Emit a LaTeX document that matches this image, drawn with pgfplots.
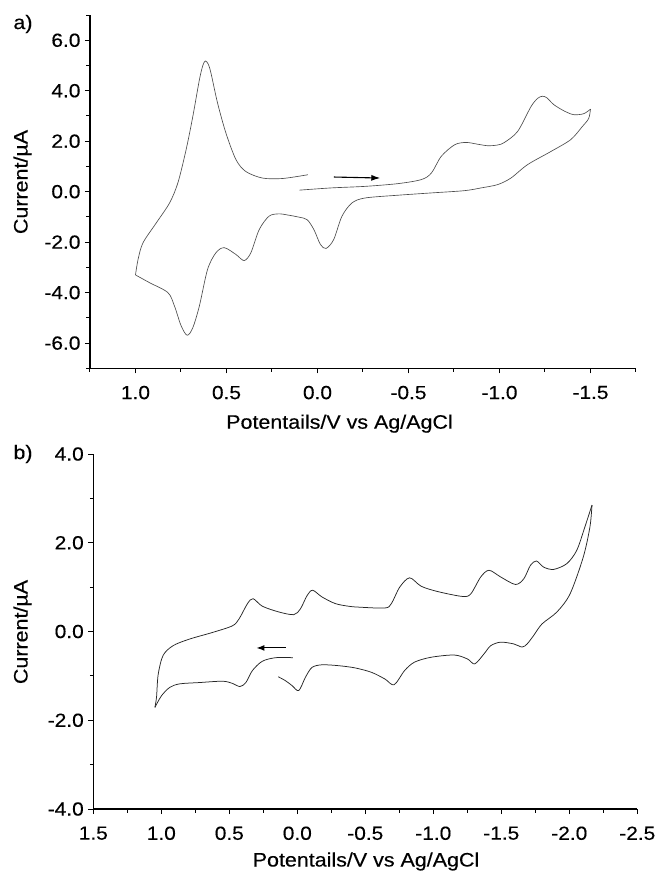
\documentclass[border=0pt]{standalone}
\usepackage{fontspec}
\setmainfont{Liberation Sans}[FakeStretch=1.1,FakeBold=0.3]
\usepackage{pgfplots}
\pgfplotsset{compat=1.18}
\usetikzlibrary{arrows.meta}

\pgfplotsset{cvaxis/.style={
  scale only axis,
  anchor=south west,
  x dir=reverse,
  axis lines*=left,
  tick pos=left,
  axis line style={line width=1.3pt,-},
  every tick/.style={line width=1pt,black},
  tick align=outside,
  major tick length=5pt,
  minor tick length=3.5pt,
  tick label style={font=\fontsize{19}{22}\selectfont},
  xticklabel style={yshift=-9pt},
  yticklabel style={xshift=-1pt},
  clip=false,
}}

\begin{document}
\begin{tikzpicture}
\path[use as bounding box] (0pt,0pt) rectangle (658pt,-879pt);

% ---------------- panel a ----------------
\begin{axis}[cvaxis,
  at={(90pt,-368.3pt)}, width=546pt, height=353.3pt,
  xmin=-1.75, xmax=1.25, ymin=-7, ymax=7,
  xtick={-1.5,-1.0,-0.5,0,0.5,1.0},
  xticklabels={-1.5,-1.0,-0.5,0.0,0.5,1.0},
  minor xtick={-1.75,-1.25,-0.75,-0.25,0.25,0.75,1.25},
  ytick={-6,-4,-2,0,2,4,6},
  yticklabels={-6.0,-4.0,-2.0,0.0,2.0,4.0,6.0},
  minor ytick={-7,-5,-3,-1,1,3,5,7},
]
\addplot[black!70, line width=0.65pt, smooth, tension=0.5] coordinates {
(0.10,0.06) (-0.079,0.15) (-0.262,0.21) (-0.444,0.32) (-0.571,0.48)
(-0.626,0.74) (-0.68,1.40) (-0.754,1.86) (-0.817,1.95) (-0.88,1.88)
(-0.936,1.82) (-0.99,1.85) (-1.027,1.95) (-1.10,2.39) (-1.173,3.37)
(-1.21,3.70) (-1.236,3.78) (-1.26,3.72) (-1.30,3.44) (-1.36,3.18)
(-1.409,3.05) (-1.463,3.09) (-1.50,3.27)
};
\addplot[black!70, line width=0.65pt, smooth, tension=0.5] coordinates {
(-1.50,3.27) (-1.49,2.90) (-1.455,2.58) (-1.391,2.06) (-1.282,1.59)
(-1.154,1.07) (-1.063,0.54) (-0.99,0.28) (-0.90,0.15) (-0.808,0.04)
(-0.626,-0.05) (-0.444,-0.14) (-0.262,-0.25) (-0.189,-0.45) (-0.134,-0.98)
(-0.089,-1.90) (-0.047,-2.25) (-0.016,-2.09) (0.020,-1.50) (0.057,-1.11)
(0.102,-1.01) (0.160,-0.93) (0.212,-0.88) (0.266,-0.97) (0.320,-1.50)
(0.366,-2.42) (0.403,-2.73) (0.448,-2.49) (0.512,-2.22) (0.558,-2.42)
(0.604,-3.08) (0.649,-4.53) (0.685,-5.39) (0.716,-5.69) (0.749,-5.32)
(0.786,-4.53) (0.822,-4.00) (0.922,-3.61) (1.00,-3.30)
};
\addplot[black!70, line width=0.65pt, smooth, tension=0.5] coordinates {
(1.00,-3.30) (0.986,-2.69) (0.959,-2.03) (0.886,-1.24) (0.813,-0.45)
(0.767,0.35) (0.722,1.66) (0.685,2.98) (0.649,4.43) (0.630,5.00)
(0.616,5.18) (0.600,5.05) (0.585,4.69) (0.549,3.51) (0.503,2.32)
(0.448,1.27) (0.394,0.80) (0.303,0.54) (0.194,0.52) (0.053,0.67)
};
\draw[line width=1.1pt, -{Latex[length=9pt,width=6pt]}] (axis cs:-0.09,0.58) -- (axis cs:-0.345,0.54);
\end{axis}

% ---------------- panel b ----------------
\begin{axis}[cvaxis,
  at={(93.3pt,-809pt)}, width=544pt, height=355pt,
  xmin=-2.5, xmax=1.5, ymin=-4, ymax=4,
  xtick={-2.5,-2.0,-1.5,-1.0,-0.5,0,0.5,1.0,1.5},
  xticklabels={-2.5,-2.0,-1.5,-1.0,-0.5,0.0,0.5,1.0,1.5},
  minor xtick={-2.25,-1.75,-1.25,-0.75,-0.25,0.25,0.75,1.25},
  ytick={-4,-2,0,2,4},
  yticklabels={-4.0,-2.0,0.0,2.0,4.0},
  minor ytick={-3,-1,1,3},
]
\addplot[black!85, line width=0.75pt, smooth, tension=0.5] coordinates {
(0.033,-0.59) (0.159,-0.59) (0.257,-0.67) (0.33,-0.88) (0.378,-1.15)
(0.422,-1.24) (0.476,-1.17) (0.549,-1.12) (0.719,-1.15) (0.865,-1.18)
(0.938,-1.26) (0.999,-1.45) (1.047,-1.71)
};
\addplot[black!85, line width=0.75pt, smooth, tension=0.5] coordinates {
(1.047,-1.71) (1.035,-1.48) (1.023,-0.97) (0.987,-0.54) (0.914,-0.32)
(0.792,-0.17) (0.622,-0.02) (0.476,0.13) (0.427,0.29) (0.366,0.63)
(0.325,0.74) (0.257,0.57) (0.135,0.44) (0.026,0.38) (-0.023,0.51)
(-0.072,0.81) (-0.113,0.93) (-0.181,0.78) (-0.279,0.63) (-0.376,0.57)
(-0.449,0.55) (-0.644,0.53) (-0.692,0.63) (-0.753,1.00) (-0.826,1.21)
(-0.911,1.02) (-1.033,0.90) (-1.215,0.79) (-1.276,0.85) (-1.349,1.23)
(-1.41,1.38) (-1.495,1.23) (-1.604,1.06) (-1.666,1.19) (-1.714,1.49)
(-1.758,1.59) (-1.812,1.45) (-1.885,1.40) (-1.982,1.53) (-2.055,1.83)
(-2.115,2.36) (-2.167,2.85)
};
\addplot[black!85, line width=0.75pt, smooth, tension=0.5] coordinates {
(-2.167,2.85) (-2.152,2.36) (-2.103,1.68) (-2.006,0.85) (-1.909,0.44)
(-1.799,0.17) (-1.738,-0.09) (-1.69,-0.28) (-1.653,-0.35) (-1.592,-0.28)
(-1.495,-0.24) (-1.422,-0.32) (-1.374,-0.50) (-1.305,-0.73) (-1.252,-0.62)
(-1.155,-0.53) (-0.984,-0.58) (-0.862,-0.69) (-0.789,-0.88) (-0.712,-1.20)
(-0.644,-1.07) (-0.546,-0.92) (-0.425,-0.82) (-0.303,-0.77) (-0.181,-0.75)
(-0.108,-0.81) (-0.06,-1.03) (-0.011,-1.33) (0.038,-1.22) (0.086,-1.11)
(0.14,-1.02)
};
\draw[line width=1.1pt, -{Latex[length=8pt,width=6pt]}] (axis cs:0.086,-0.37) -- (axis cs:0.30,-0.37);
\end{axis}

% ---------------- labels ----------------
\begin{scope}[every node/.style={font=\fontsize{19.5}{23}\selectfont, inner sep=0pt}]
\node at (23pt,-24pt) {a)};
\node at (23pt,-454pt) {b)};
\node[rotate=90] at (22.5pt,-182pt) {Current/µA};
\node[rotate=90] at (22.5pt,-632pt) {Current/µA};
\node[anchor=base] at (339.5pt,-428.7pt) {Potentails/V vs Ag/AgCl};
\node[anchor=base] at (366pt,-866.5pt) {Potentails/V vs Ag/AgCl};
\end{scope}
\end{tikzpicture}
\end{document}
